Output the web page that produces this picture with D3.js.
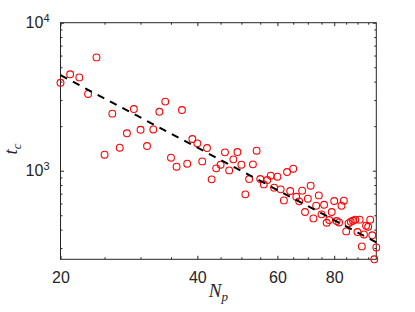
<!DOCTYPE html>
<html>
<head>
<meta charset="utf-8">
<script src="https://cdn.jsdelivr.net/npm/d3@7"></script>
<style>
  body { margin: 0; background: #fff; }
  svg { display: block; }
</style>
</head>
<body>
<script>
// particle number (x) and crossover time (y), one point per N_p
const Np = [20, 21, 22, 23, 24, 25, 26, 27, 28, 29,
            30, 31, 32, 33, 34, 35, 36, 37, 38, 39,
            40, 41, 42, 43, 44, 45, 46, 47, 48, 49,
            50, 51, 52, 53, 54, 55, 56, 57, 58, 59,
            60, 61, 62, 63, 64, 65, 66, 67, 68, 69,
            70, 71, 72, 73, 74, 75, 76, 77, 78, 79,
            80, 81, 82, 83, 84, 85, 86, 87, 88, 89,
            90, 91, 92, 93, 94, 95, 96, 97, 98, 99];
const tc = [3930, 4480, 4270, 3300, 5830, 1283, 2430, 1430, 1790, 2610,
            1890, 1468, 1900, 2500, 2930, 1224, 1064, 2570, 1115, 1637,
            1530, 1156, 1423, 874, 1037, 1098, 1330, 1005, 1193, 1337,
            1098, 692, 878, 1104, 1365, 878, 808, 865, 925, 768,
            911, 748, 630, 979, 729, 1032, 667, 621, 733, 526,
            647, 792, 476, 580, 681, 507, 589, 445, 464, 526,
            624, 457, 447, 580, 627, 389, 441, 452, 459, 467,
            385, 467, 308, 371, 425, 418, 467, 366, 252, 303];

// power-law fit drawn as dashed line
const fitNp = [20, 99];
const fitTc = [4420, 328];

const xMajor = [20, 40, 60, 80];
const xMinor = [25, 30, 35, 45, 50, 55, 65, 70, 75, 85, 90, 95];
const yMajor = [1000, 10000];
const yMinor = [300, 400, 500, 600, 700, 800, 900,
                2000, 3000, 4000, 5000, 6000, 7000, 8000, 9000];

const width = 415, height = 312;
const mLeft = 60.5, mRight = 376.3, mTop = 22.7, mBottom = 259.3;
const axisColor = "#262626";

const svg = d3.select("body").append("svg")
              .attr("width", width)
              .attr("height", height);

const x = d3.scaleLog().domain([20, 99]).range([mLeft, mRight]);
const y = d3.scaleLog().domain([d3.min(tc), 10000]).range([mBottom, mTop]);

function styleAxis(g) {
  g.select(".domain").remove();
  g.selectAll("line").attr("stroke", axisColor).attr("stroke-width", 1);
  g.selectAll("text").attr("fill", axisColor)
   .attr("font-family", "'Liberation Sans', Arial, sans-serif")
   .attr("font-size", 16);
}

// bottom
svg.append("g").attr("transform", `translate(0,${mBottom})`)
   .call(d3.axisBottom(x).tickValues(xMajor).tickSize(-3.5).tickPadding(12)
           .tickFormat(d3.format("d")))
   .call(styleAxis);
svg.append("g").attr("transform", `translate(0,${mBottom})`)
   .call(d3.axisBottom(x).tickValues(xMinor).tickSize(-2).tickFormat(""))
   .call(styleAxis);
// top
svg.append("g").attr("transform", `translate(0,${mTop})`)
   .call(d3.axisTop(x).tickValues(xMajor).tickSize(-3.5).tickFormat(""))
   .call(styleAxis);
svg.append("g").attr("transform", `translate(0,${mTop})`)
   .call(d3.axisTop(x).tickValues(xMinor).tickSize(-2).tickFormat(""))
   .call(styleAxis);
// left
const yAx = svg.append("g").attr("transform", `translate(${mLeft},0)`)
   .call(d3.axisLeft(y).tickValues(yMajor).tickSize(-3.5).tickPadding(11))
   .call(styleAxis);
yAx.selectAll(".tick text").each(function(d) {
  const t = d3.select(this);
  t.text("10");
  t.append("tspan").attr("dy", "-0.55em").attr("font-size", 11)
   .text(Math.round(Math.log10(d)));
});
svg.append("g").attr("transform", `translate(${mLeft},0)`)
   .call(d3.axisLeft(y).tickValues(yMinor).tickSize(-2).tickFormat(""))
   .call(styleAxis);
// right
svg.append("g").attr("transform", `translate(${mRight},0)`)
   .call(d3.axisRight(y).tickValues(yMajor).tickSize(-3.5).tickFormat(""))
   .call(styleAxis);
svg.append("g").attr("transform", `translate(${mRight},0)`)
   .call(d3.axisRight(y).tickValues(yMinor).tickSize(-2).tickFormat(""))
   .call(styleAxis);

// box
svg.append("rect")
   .attr("x", mLeft).attr("y", mTop)
   .attr("width", mRight - mLeft).attr("height", mBottom - mTop)
   .attr("fill", "none").attr("stroke", axisColor).attr("stroke-width", 1);

// data points
svg.append("g")
   .selectAll("circle")
   .data(Np.map((n, i) => [n, tc[i]]))
   .enter().append("circle")
   .attr("cx", d => x(d[0]))
   .attr("cy", d => y(d[1]))
   .attr("r", 3.4)
   .attr("fill", "none")
   .attr("stroke", "#ff0000")
   .attr("stroke-width", 1.1);

// fit line
svg.append("path")
   .datum(fitNp.map((n, i) => [n, fitTc[i]]))
   .attr("d", d3.line().x(d => x(d[0])).y(d => y(d[1])))
   .attr("fill", "none")
   .attr("stroke", "#000")
   .attr("stroke-width", 2)
   .attr("stroke-dasharray", "7.5,6.5");

// axis labels
const serif = "'Liberation Serif', 'Times New Roman', serif";
const xl = svg.append("text")
   .attr("x", (mLeft + mRight) / 2).attr("y", 297)
   .attr("text-anchor", "middle")
   .attr("font-family", serif).attr("font-style", "italic")
   .attr("font-size", 19).attr("fill", axisColor);
xl.append("tspan").text("N");
xl.append("tspan").attr("dy", 4).attr("font-size", 13).text("p");

const yl = svg.append("text")
   .attr("transform", `translate(17,${(mTop + mBottom) / 2 + 8}) rotate(-90)`)
   .attr("text-anchor", "middle")
   .attr("font-family", serif).attr("font-style", "italic")
   .attr("font-size", 19).attr("fill", axisColor);
yl.append("tspan").text("t");
yl.append("tspan").attr("dy", 4).attr("font-size", 13).text("c");
</script>
</body>
</html>
